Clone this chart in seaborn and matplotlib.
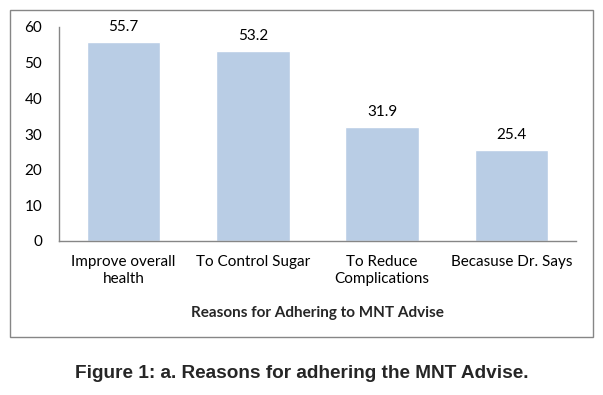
import matplotlib
matplotlib.use("Agg")
import matplotlib.pyplot as plt
import pandas as pd
import seaborn as sns
from matplotlib.patches import Rectangle

reasons = ["Improve overall\nhealth", "To Control Sugar", "To Reduce\nComplications", "Becasuse Dr. Says"]
percent = [55.7, 53.2, 31.9, 25.4]
y_ticks = [0, 10, 20, 30, 40, 50, 60]

df = pd.DataFrame({"reason": reasons, "percent": percent})

sns.set_theme(style="white")
plt.rcParams["font.family"] = ["Lato", "DejaVu Sans"]

W, H = 603, 395
fig = plt.figure(figsize=(W / 100, H / 100), dpi=100)
ax = fig.add_axes([59 / W, 1 - 241 / H, 517 / W, 214 / H])

sns.barplot(data=df, x="reason", y="percent", color="#B9CDE5", width=0.57,
            saturation=1, ax=ax)

for i, v in enumerate(percent):
    ax.text(i, v + 2.3, f"{v}", ha="center", va="bottom", fontsize=11, color="#000000")

ax.set_ylim(0, 60)
ax.set_yticks(y_ticks)
ax.tick_params(axis="both", length=0, labelsize=11, colors="#000000")
ax.tick_params(axis="y", pad=12)
ax.tick_params(axis="x", pad=10)
for lbl in ax.get_xticklabels():
    lbl.set_linespacing(1.3)
ax.set_ylabel("")
ax.set_xlabel("Reasons for Adhering to MNT Advise", fontsize=11, fontweight="bold", labelpad=14)
for s in ["top", "right"]:
    ax.spines[s].set_visible(False)
for s in ["left", "bottom"]:
    ax.spines[s].set_color("#868686")
    ax.spines[s].set_linewidth(1)

fig.patches.append(Rectangle((10 / W, 1 - 337 / H), 583 / W, 327 / H,
                             transform=fig.transFigure, fill=False,
                             edgecolor="#868686", linewidth=1))

fig.text(0.5, 1 - 374 / H, "Figure 1: a. Reasons for adhering the MNT Advise.",
         ha="center", va="center", fontsize=13.7, fontweight="bold",
         family=["Liberation Sans", "DejaVu Sans"])

fig.savefig("out.png", dpi=100)
